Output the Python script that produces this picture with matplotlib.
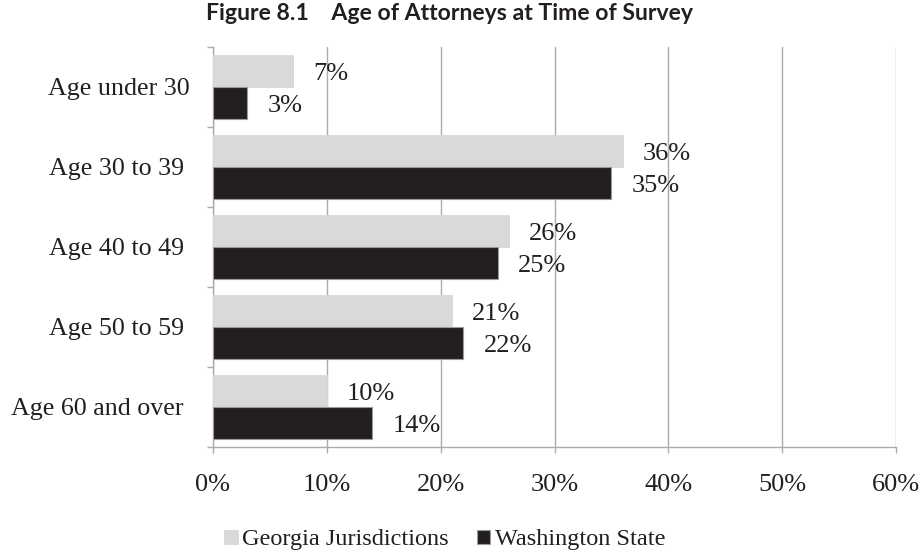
import matplotlib
matplotlib.use("Agg")
import matplotlib.pyplot as plt
import matplotlib.transforms as mtransforms
import numpy as np

categories = ["Age under 30", "Age 30 to 39", "Age 40 to 49", "Age 50 to 59", "Age 60 and over"]
georgia = [7, 36, 26, 21, 10]
washington = [3, 35, 25, 22, 14]
series_names = ["Georgia Jurisdictions", "Washington State"]
xticks = [0, 10, 20, 30, 40, 50, 60]
xtick_labels = [f"{v}%" for v in xticks]
title = "Figure 8.1    Age of Attorneys at Time of Survey"

serif = "Liberation Serif"
txt = "#231f20"
light = "#d9d9db"
dark = "#231f20"
gridc = "#ababab"

fig = plt.figure(figsize=(9.24, 5.57), dpi=100)
ax = fig.add_axes([213/924, 1-447/557, (896-213)/924, (447-47)/557])

y = np.arange(len(categories))
h = 0.4
b1 = ax.barh(y - h/2, georgia, height=h, color=light, edgecolor=light, linewidth=0.6, label=series_names[0], zorder=3)
b2 = ax.barh(y + h/2, washington, height=h, color=dark, edgecolor="#9a9a9a", linewidth=0.8, label=series_names[1], zorder=3)

for bars, vals in ((b1, georgia), (b2, washington)):
    for rect, v in zip(bars, vals):
        ax.annotate(f"{v}%", (v, rect.get_y() + rect.get_height()/2),
                    xytext=(14.5, -2.5), textcoords="offset points",
                    ha="left", va="center", fontsize=19, family=serif, color=txt, zorder=5)

ax.set_xlim(0, 60)
ax.set_ylim(len(categories) - 0.5, -0.5)
ax.set_xticks(xticks)
ax.set_xticklabels(xtick_labels, family=serif, fontsize=19, color=txt)
ax.set_yticks(y)
ax.set_yticklabels(categories, family=serif, fontsize=18.7, color=txt)
ax.set_yticks(np.arange(len(categories) + 1) - 0.5, minor=True)
ax.tick_params(axis="y", which="major", length=0, pad=21)
ax.tick_params(axis="y", which="minor", length=4.5, color=gridc, width=1)
ax.tick_params(axis="x", length=4.5, color=gridc, width=1, pad=15)

# first category label sits slightly further right in the reference
first = ax.get_yticklabels()[0]
first.set_transform(first.get_transform() + mtransforms.ScaledTranslation(6/100, 0, fig.dpi_scale_trans))

ax.grid(axis="x", color=gridc, linewidth=1, zorder=0)
for s in ["top", "right"]:
    ax.spines[s].set_visible(False)
for s in ["left", "bottom"]:
    ax.spines[s].set_color(gridc)
    ax.spines[s].set_linewidth(1)

fig.text(450/924, 1-13/557, title, ha="center", va="center", fontsize=16.6,
         fontweight="bold", family="Lato", color=txt)

leg = fig.legend(handles=[b1, b2], labels=series_names, loc="center",
                 bbox_to_anchor=(445/924, 1-540/557), ncol=2, frameon=False,
                 prop={"family": serif, "size": 17.5}, handlelength=0.55, handleheight=0.55,
                 handletextpad=0.2, columnspacing=1.15)
for t in leg.get_texts():
    t.set_color(txt)

fig.savefig("out.png", dpi=100)
